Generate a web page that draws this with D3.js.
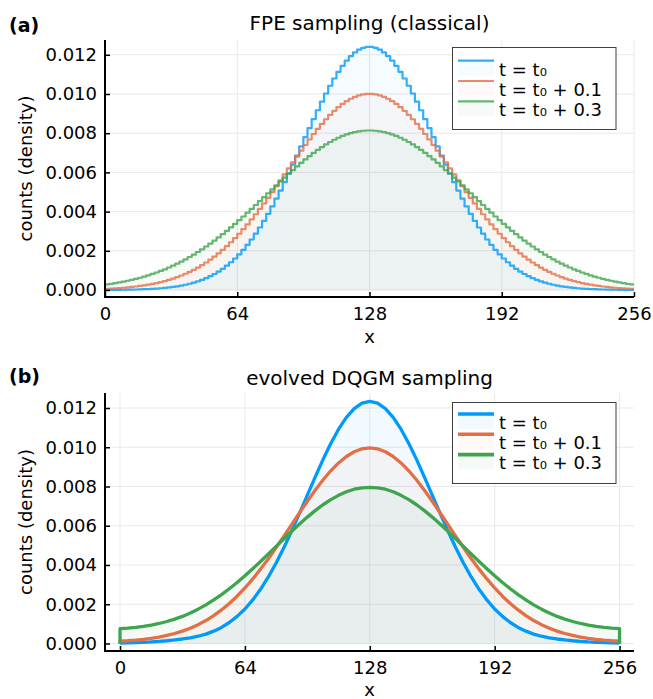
<!DOCTYPE html>
<html>
<head>
<meta charset="utf-8">
<script src="https://cdn.jsdelivr.net/npm/d3@7"></script>
<style>
  body { margin: 0; background: #fff; }
  text { font-family: "DejaVu Sans", sans-serif; fill: #000; }
</style>
</head>
<body>
<svg id="chart" width="653" height="699"></svg>
<script>
// ---- data ----------------------------------------------------------------
const xTickValues = [0, 64, 128, 192, 256];
const yTickValues = [0, 0.002, 0.004, 0.006, 0.008, 0.010, 0.012];
const seriesNames = ["t = t₀", "t = t₀ + 0.1", "t = t₀ + 0.3"];
const seriesColors = ["#009AFA", "#E36F47", "#3EA44E"];
const panelTitles = ["FPE sampling (classical)", "evolved DQGM sampling"];
const panelTags = ["(a)", "(b)"];

// FPE histograms: 128 bins of width 2 over x = 0..256 (density)
const fpeBinWidth = 2;
const fpeT0 = [
  0.000005, 0.000006, 0.000008, 0.000010, 0.000013, 0.000017, 0.000021, 0.000026,
  0.000032, 0.000040, 0.000049, 0.000060, 0.000073, 0.000089, 0.000108, 0.000131,
  0.000158, 0.000189, 0.000226, 0.000269, 0.000319, 0.000377, 0.000443, 0.000519,
  0.000606, 0.000705, 0.000817, 0.000942, 0.001083, 0.001240, 0.001415, 0.001607,
  0.001819, 0.002051, 0.002304, 0.002577, 0.002872, 0.003189, 0.003526, 0.003885,
  0.004263, 0.004660, 0.005073, 0.005503, 0.005946, 0.006400, 0.006862, 0.007328,
  0.007796, 0.008262, 0.008722, 0.009172, 0.009608, 0.010026, 0.010422, 0.010791,
  0.011130, 0.011436, 0.011704, 0.011933, 0.012119, 0.012261, 0.012356, 0.012404,
  0.012404, 0.012356, 0.012261, 0.012119, 0.011933, 0.011704, 0.011436, 0.011130,
  0.010791, 0.010422, 0.010026, 0.009608, 0.009172, 0.008722, 0.008262, 0.007796,
  0.007328, 0.006862, 0.006400, 0.005946, 0.005503, 0.005073, 0.004660, 0.004263,
  0.003885, 0.003526, 0.003189, 0.002872, 0.002577, 0.002304, 0.002051, 0.001819,
  0.001607, 0.001415, 0.001240, 0.001083, 0.000942, 0.000817, 0.000705, 0.000606,
  0.000519, 0.000443, 0.000377, 0.000319, 0.000269, 0.000226, 0.000189, 0.000158,
  0.000131, 0.000108, 0.000089, 0.000073, 0.000060, 0.000049, 0.000040, 0.000032,
  0.000026, 0.000021, 0.000017, 0.000013, 0.000010, 0.000008, 0.000006, 0.000005
];
const fpeT01 = [
  0.000062, 0.000073, 0.000086, 0.000100, 0.000116, 0.000135, 0.000156, 0.000180,
  0.000207, 0.000238, 0.000273, 0.000312, 0.000355, 0.000404, 0.000458, 0.000518,
  0.000585, 0.000658, 0.000739, 0.000828, 0.000925, 0.001030, 0.001145, 0.001270,
  0.001404, 0.001549, 0.001705, 0.001871, 0.002049, 0.002237, 0.002437, 0.002648,
  0.002871, 0.003103, 0.003347, 0.003601, 0.003864, 0.004136, 0.004415, 0.004702,
  0.004995, 0.005293, 0.005594, 0.005898, 0.006203, 0.006507, 0.006808, 0.007106,
  0.007398, 0.007682, 0.007958, 0.008223, 0.008475, 0.008713, 0.008935, 0.009140,
  0.009326, 0.009492, 0.009636, 0.009758, 0.009857, 0.009932, 0.009982, 0.010007,
  0.010007, 0.009982, 0.009932, 0.009857, 0.009758, 0.009636, 0.009492, 0.009326,
  0.009140, 0.008935, 0.008713, 0.008475, 0.008223, 0.007958, 0.007682, 0.007398,
  0.007106, 0.006808, 0.006507, 0.006203, 0.005898, 0.005594, 0.005293, 0.004995,
  0.004702, 0.004415, 0.004136, 0.003864, 0.003601, 0.003347, 0.003103, 0.002871,
  0.002648, 0.002437, 0.002237, 0.002049, 0.001871, 0.001705, 0.001549, 0.001404,
  0.001270, 0.001145, 0.001030, 0.000925, 0.000828, 0.000739, 0.000658, 0.000585,
  0.000518, 0.000458, 0.000404, 0.000355, 0.000312, 0.000273, 0.000238, 0.000207,
  0.000180, 0.000156, 0.000135, 0.000116, 0.000100, 0.000086, 0.000073, 0.000062
];
const fpeT03 = [
  0.000283, 0.000314, 0.000349, 0.000386, 0.000427, 0.000471, 0.000518, 0.000570,
  0.000626, 0.000686, 0.000750, 0.000819, 0.000894, 0.000973, 0.001057, 0.001147,
  0.001243, 0.001344, 0.001451, 0.001564, 0.001683, 0.001808, 0.001939, 0.002076,
  0.002219, 0.002368, 0.002523, 0.002683, 0.002849, 0.003020, 0.003196, 0.003377,
  0.003562, 0.003751, 0.003943, 0.004138, 0.004336, 0.004535, 0.004736, 0.004937,
  0.005139, 0.005339, 0.005539, 0.005736, 0.005930, 0.006121, 0.006307, 0.006488,
  0.006664, 0.006832, 0.006993, 0.007147, 0.007291, 0.007426, 0.007551, 0.007665,
  0.007767, 0.007859, 0.007937, 0.008004, 0.008057, 0.008098, 0.008125, 0.008138,
  0.008138, 0.008125, 0.008098, 0.008057, 0.008004, 0.007937, 0.007859, 0.007767,
  0.007665, 0.007551, 0.007426, 0.007291, 0.007147, 0.006993, 0.006832, 0.006664,
  0.006488, 0.006307, 0.006121, 0.005930, 0.005736, 0.005539, 0.005339, 0.005139,
  0.004937, 0.004736, 0.004535, 0.004336, 0.004138, 0.003943, 0.003751, 0.003562,
  0.003377, 0.003196, 0.003020, 0.002849, 0.002683, 0.002523, 0.002368, 0.002219,
  0.002076, 0.001939, 0.001808, 0.001683, 0.001564, 0.001451, 0.001344, 0.001243,
  0.001147, 0.001057, 0.000973, 0.000894, 0.000819, 0.000750, 0.000686, 0.000626,
  0.000570, 0.000518, 0.000471, 0.000427, 0.000386, 0.000349, 0.000314, 0.000283
];

// DQGM samples: density at x = 0, 4, 8, ..., 256
const dqgmStep = 4;
const dqgmT0 = [
  0.00002, 0.00003, 0.000045, 0.00006, 0.00008, 0.00011, 0.00014, 0.00018,
  0.00023, 0.00029, 0.00037, 0.00048, 0.00063, 0.00082, 0.00107, 0.00138,
  0.00176, 0.00222, 0.00276, 0.00339, 0.00410, 0.00489, 0.00574, 0.00664,
  0.00756, 0.00848, 0.00937, 0.01019, 0.01092, 0.01152, 0.01197, 0.01225,
  0.01234,
  0.01225, 0.01197, 0.01152, 0.01092, 0.01019, 0.00937, 0.00848, 0.00756,
  0.00664, 0.00574, 0.00489, 0.00410, 0.00339, 0.00276, 0.00222, 0.00176,
  0.00138, 0.00107, 0.00082, 0.00063, 0.00048, 0.00037, 0.00029, 0.00023,
  0.00018, 0.00014, 0.00011, 0.00008, 0.00006, 0.000045, 0.00003, 0.00002
];
const dqgmT01 = [
  0.00012, 0.00014, 0.00017, 0.00021, 0.00026, 0.00033, 0.00041, 0.00051,
  0.00063, 0.00078, 0.00096, 0.00117, 0.00142, 0.00171, 0.00204, 0.00241,
  0.00283, 0.00329, 0.00379, 0.00432, 0.00489, 0.00547, 0.00607, 0.00666,
  0.00725, 0.00781, 0.00833, 0.00880, 0.00920, 0.00953, 0.00977, 0.00992,
  0.00997,
  0.00992, 0.00977, 0.00953, 0.00920, 0.00880, 0.00833, 0.00781, 0.00725,
  0.00666, 0.00607, 0.00547, 0.00489, 0.00432, 0.00379, 0.00329, 0.00283,
  0.00241, 0.00204, 0.00171, 0.00142, 0.00117, 0.00096, 0.00078, 0.00063,
  0.00051, 0.00041, 0.00033, 0.00026, 0.00021, 0.00017, 0.00014, 0.00012
];
const dqgmT03 = [
  0.00076, 0.00078, 0.00082, 0.00087, 0.00094, 0.00102, 0.00112, 0.00124,
  0.00138, 0.00155, 0.00175, 0.00197, 0.00222, 0.00249, 0.00279, 0.00311,
  0.00345, 0.00381, 0.00418, 0.00456, 0.00495, 0.00534, 0.00572, 0.00609,
  0.00644, 0.00677, 0.00707, 0.00733, 0.00755, 0.00773, 0.00786, 0.00793,
  0.00796,
  0.00793, 0.00786, 0.00773, 0.00755, 0.00733, 0.00707, 0.00677, 0.00644,
  0.00609, 0.00572, 0.00534, 0.00495, 0.00456, 0.00418, 0.00381, 0.00345,
  0.00311, 0.00279, 0.00249, 0.00222, 0.00197, 0.00175, 0.00155, 0.00138,
  0.00124, 0.00112, 0.00102, 0.00094, 0.00087, 0.00082, 0.00078, 0.00076
];

// ---- layout --------------------------------------------------------------
const svg = d3.select("#chart");
const FONT = 18;

const panels = [
  {
    title: panelTitles[0], tag: panelTags[0],
    left: 105, right: 634, top: 40, bottom: 297,
    xDomain: [0, 256], yDomain: [-0.000357, 0.012755],
    titleY: 30, tagY: 32, xLabelY: 343,
    legend: { x: 452.5, y: 47.5, w: 163.5, h: 82, row0: 60.7, lw: 2.2 },
    kind: "hist", lineWidth: 2.2, lineOpacity: 0.8, fillOpacity: 0.04,
    series: [fpeT0, fpeT01, fpeT03]
  },
  {
    title: panelTitles[1], tag: panelTags[1],
    left: 105, right: 634, top: 393, bottom: 651,
    xDomain: [-7.7, 263.4], yDomain: [-0.000382, 0.012764],
    titleY: 385, tagY: 383, xLabelY: 696,
    legend: { x: 452.5, y: 402.5, w: 163.5, h: 81, row0: 414, lw: 3.6 },
    kind: "line", lineWidth: 3.3, lineOpacity: 1, fillOpacity: 0.05,
    series: [dqgmT0, dqgmT01, dqgmT03]
  }
];

panels.forEach(p => {
  const g = svg.append("g");
  const x = d3.scaleLinear().domain(p.xDomain).range([p.left, p.right]);
  const y = d3.scaleLinear().domain(p.yDomain).range([p.bottom, p.top]);

  // grid
  g.append("g").selectAll("line").data(xTickValues).join("line")
    .attr("x1", d => x(d)).attr("x2", d => x(d))
    .attr("y1", p.top).attr("y2", p.bottom)
    .attr("stroke", "#e9e9e9").attr("stroke-width", 1);
  g.append("g").selectAll("line").data(yTickValues).join("line")
    .attr("x1", p.left).attr("x2", p.right)
    .attr("y1", d => y(d)).attr("y2", d => y(d))
    .attr("stroke", "#e9e9e9").attr("stroke-width", 1);

  // build point lists for each series
  const pointSets = p.series.map(vals => {
    if (p.kind === "hist") {
      const pts = vals.map((v, i) => [i * fpeBinWidth, v]);
      pts.push([vals.length * fpeBinWidth, vals[vals.length - 1]]);
      return pts;
    } else {
      const pts = vals.map((v, i) => [i * dqgmStep, v]);
      const xEnd = (vals.length - 1) * dqgmStep;
      return [[0, 0], ...pts, [xEnd, 0]];
    }
  });

  const curve = p.kind === "hist" ? d3.curveStepAfter : d3.curveLinear;
  const area = d3.area().curve(curve)
    .x(d => x(d[0])).y0(y(0)).y1(d => y(d[1]));
  const line = d3.line().curve(curve)
    .x(d => x(d[0])).y(d => y(d[1]));

  pointSets.forEach((pts, i) => {
    g.append("path").attr("d", area(pts))
      .attr("fill", seriesColors[i]).attr("fill-opacity", p.fillOpacity);
  });
  pointSets.forEach((pts, i) => {
    g.append("path").attr("d", line(pts))
      .attr("fill", "none").attr("stroke", seriesColors[i])
      .attr("stroke-width", p.lineWidth).attr("stroke-opacity", p.lineOpacity)
      .attr("stroke-linejoin", "round");
  });

  // axes
  const yAxis = d3.axisLeft(y).tickValues(yTickValues)
    .tickFormat(d3.format(".3f")).tickSizeInner(-5).tickSizeOuter(0).tickPadding(8);
  const gy = g.append("g").attr("transform", `translate(${p.left},0)`).call(yAxis);
  gy.select(".domain").remove();
  gy.selectAll("line").attr("stroke", "#000").attr("stroke-width", 1.5);
  gy.selectAll("text").attr("font-size", FONT).attr("font-family", "DejaVu Sans");

  const xAxis = d3.axisBottom(x).tickValues(xTickValues)
    .tickFormat(d3.format("d")).tickSizeInner(-5).tickSizeOuter(0).tickPadding(10);
  const gx = g.append("g").attr("transform", `translate(0,${p.bottom})`).call(xAxis);
  gx.select(".domain").remove();
  gx.selectAll("line").attr("stroke", "#000").attr("stroke-width", 1.5);
  gx.selectAll("text").attr("font-size", FONT).attr("font-family", "DejaVu Sans");

  g.append("line").attr("x1", p.left).attr("x2", p.left)
    .attr("y1", p.top).attr("y2", p.bottom + 1)
    .attr("stroke", "#000").attr("stroke-width", 2);
  g.append("line").attr("x1", p.left - 1).attr("x2", p.right)
    .attr("y1", p.bottom).attr("y2", p.bottom)
    .attr("stroke", "#000").attr("stroke-width", 2);

  // labels
  g.append("text").attr("x", (p.left + p.right) / 2).attr("y", p.titleY)
    .attr("text-anchor", "middle").attr("font-size", 20).text(p.title);
  g.append("text").attr("x", 9).attr("y", p.tagY)
    .attr("font-size", 19).attr("font-weight", "bold").text(p.tag);
  g.append("text").attr("x", (p.left + p.right) / 2).attr("y", p.xLabelY)
    .attr("text-anchor", "middle").attr("font-size", FONT).text("x");
  g.append("text")
    .attr("transform", `translate(32,${(p.top + p.bottom) / 2}) rotate(-90)`)
    .attr("text-anchor", "middle").attr("font-size", FONT).text("counts (density)");

  // legend
  const L = p.legend;
  const lg = g.append("g");
  lg.append("rect").attr("x", L.x).attr("y", L.y).attr("width", L.w).attr("height", L.h)
    .attr("fill", "#fff").attr("stroke", "#404040").attr("stroke-width", 1);
  seriesNames.forEach((name, i) => {
    const ry = L.row0 + i * 20.3;
    lg.append("rect").attr("x", 458).attr("y", ry).attr("width", 36).attr("height", 15)
      .attr("fill", seriesColors[i]).attr("fill-opacity", p.fillOpacity);
    lg.append("line").attr("x1", 458).attr("x2", 494).attr("y1", ry).attr("y2", ry)
      .attr("stroke", seriesColors[i]).attr("stroke-width", L.lw)
      .attr("stroke-opacity", p.lineOpacity);
    lg.append("text").attr("x", 499).attr("y", ry + 14.8)
      .attr("font-size", FONT).text(name);
  });
});
</script>
</body>
</html>
